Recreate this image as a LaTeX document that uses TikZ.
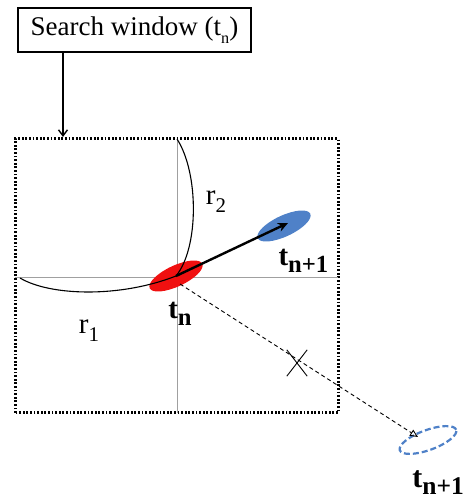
\documentclass[tikz,border=0pt]{standalone}
\usepackage{fontspec}
\setmainfont{Liberation Serif}
\usetikzlibrary{shapes.geometric,arrows.meta}
\newcommand{\lowsub}[3]{\raisebox{-#1}{\scalebox{#2}{#3}}}
\definecolor{tred}{HTML}{F01010}
\definecolor{tblue}{HTML}{4F81C8}
\definecolor{gline}{HTML}{A0A0A0}
\tikzset{
  labelbox/.style={draw, line width=1.8pt, minimum width=233pt, minimum height=44pt, inner sep=0pt, font=\fontsize{27}{30}\selectfont},
  window/.style={line width=3pt, dash pattern=on 1.8pt off 1.8pt},
  axis/.style={gline, line width=0.9pt},
  curve/.style={black, line width=1.1pt},
  blob/.style={ellipse, minimum width=58pt, minimum height=21pt, inner sep=0pt, rotate=25},
  rlabel/.style={font=\fontsize{29}{32}\selectfont},
  tlabel/.style={font=\fontsize{29}{32}\selectfont\bfseries},
}
\begin{document}
\begin{tikzpicture}[x=1pt,y=1pt]
\useasboundingbox (0,0) rectangle (469,503);
% search window label and arrow
\node[labelbox] (sw) at (134.5,473) {Search window (t\lowsub{0.6ex}{0.6}{n})};
\coordinate (swin) at (63,366);
\draw[line width=1.4pt, -{Straight Barb[length=6pt,width=9pt]}] (sw.south -| swin) -- (swin);
% dotted window
\draw[window] (15,90) rectangle (338,364);
% axes
\coordinate (vt) at (177,364);
\coordinate (vb) at (177,90);
\coordinate (hl) at (15,226);
\coordinate (hr) at (338,226);
\draw[axis] (vt) -- (vb);
\draw[axis] (hl) -- (hr);
% ellipses
\node[blob, fill=tred] (tn) at (176,227) {};
\node[blob, fill=tblue] (tn1) at (284,277) {};
% curves
\coordinate (r1s) at (20,225);
\draw[curve] (vt) .. controls (199,330) and (199,255) .. (tn.center);
\draw[curve] (r1s) .. controls (50,207) and (120,205) .. (tn.center);
% motion arrow
\draw[line width=2.4pt, -{Stealth[length=10pt,width=9pt]}] (tn.center) -- (288,280);
% predicted
\node[blob, draw=tblue, line width=2.2pt, dash pattern=on 6pt off 3pt, rotate=-5, minimum width=60pt, minimum height=20pt] (tp) at (428,63) {};
\coordinate (ds) at (180,219);
\draw[line width=0.9pt, dash pattern=on 4pt off 3pt, -{Triangle[open,length=8pt,width=7pt]}] (ds) -- (418,66);
% cross
\node[inner sep=0pt, minimum width=20pt, minimum height=26pt] (x) at (297,140) {};
\draw[line width=0.9pt] (x.south west) -- (x.north east);
\draw[line width=0.9pt] (x.north west) -- (x.south east);
% labels
\node[rlabel] (lr2) at (216,301) {r\lowsub{0.6ex}{0.72}{2}};
\node[rlabel] (lr1) at (89,172) {r\lowsub{0.6ex}{0.72}{1}};
\node[tlabel] (ltn) at (180,189) {t\lowsub{0.5ex}{0.85}{n}};
\node[tlabel, anchor=west] (ltn1) at (275,242) {t\lowsub{0.5ex}{0.85}{n+1}};
\node[tlabel, anchor=south east, font=\fontsize{30}{33}\selectfont\bfseries, inner sep=0pt] (ltp) at (464,8) {t\lowsub{0.5ex}{0.85}{n+1}};
\end{tikzpicture}
\end{document}
